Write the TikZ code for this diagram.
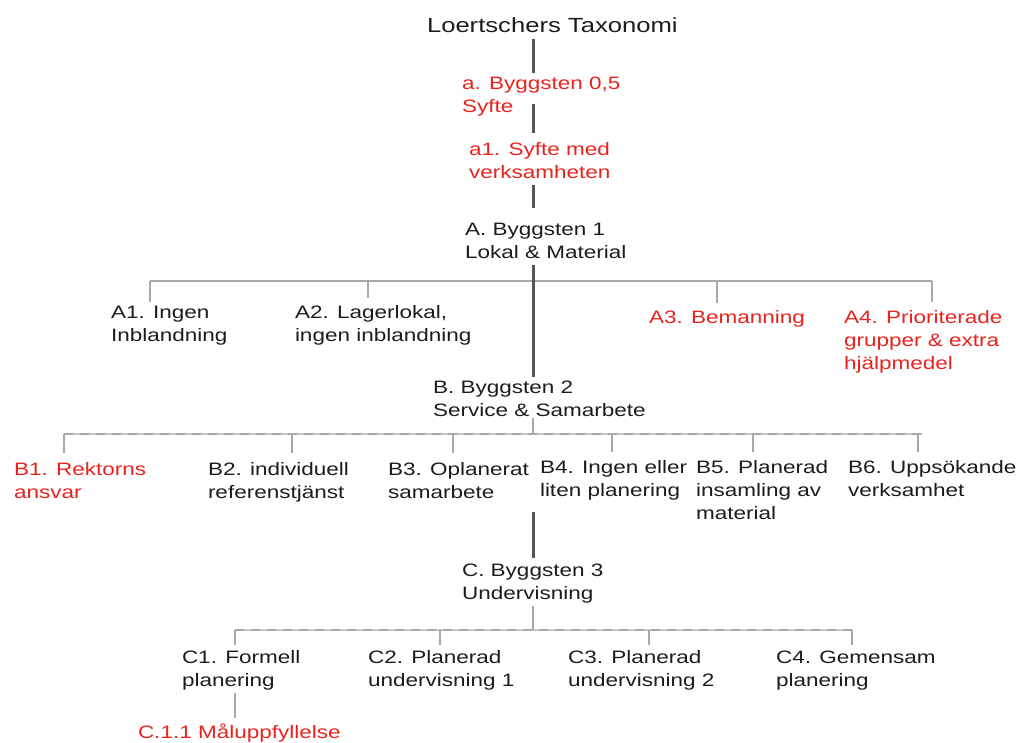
\documentclass[tikz,border=0pt]{standalone}
\usepackage{fontspec}
\setmainfont[FakeStretch=1.25]{Liberation Sans}
\definecolor{tred}{HTML}{E8231E}
\definecolor{ttext}{HTML}{1C1C1C}
\definecolor{trunkc}{HTML}{555555}
\definecolor{busc}{HTML}{A8A8A8}
\definecolor{busl}{HTML}{C6C6C6}
\newcommand\ml[1]{\begin{tabular}[t]{@{}l@{}}#1\end{tabular}}
\begin{document}
\begin{tikzpicture}[x=1pt,y=-1pt,
 lab/.style={anchor=base west, inner sep=0pt, outer sep=0pt, text=ttext, font=\fontsize{18}{23}\selectfont},
 redlab/.style={lab, text=tred},
 trunk/.style={draw=trunkc, line width=3pt},
 bus/.style={draw=busc, line width=2.8pt},
 lbus/.style={draw=busl, line width=2.8pt},
 dbus/.style={draw=busc, line width=2.8pt, dash pattern=on 9pt off 7pt},
 drop/.style={draw=busc, line width=2.6pt}]
\useasboundingbox (0,0) rectangle (1017,742);
% nodes
\node[lab, font=\fontsize{20.5}{23}\selectfont] (title) at (427,32) {\ml{Loertschers Taxonomi}};
\node[redlab] (a) at (462,89) {\ml{a. Byggsten 0,5\\Syfte}};
\node[redlab] (a1) at (469,155) {\ml{a1. Syfte med\\verksamheten}};
\node[lab] (A) at (465,235) {\ml{A. Byggsten 1\\Lokal \& Material}};
\node[lab] (A1) at (111,318) {\ml{A1. Ingen\\Inblandning}};
\node[lab] (A2) at (295,318) {\ml{A2. Lagerlokal,\\ingen inblandning}};
\node[redlab] (A3) at (649,323) {\ml{A3. Bemanning}};
\node[redlab] (A4) at (844,323) {\ml{A4. Prioriterade\\grupper \& extra\\hjälpmedel}};
\node[lab] (B) at (433,393) {\ml{B. Byggsten 2\\Service \& Samarbete}};
\node[redlab] (B1) at (14,475) {\ml{B1. Rektorns\\ansvar}};
\node[lab] (B2) at (208,475) {\ml{B2. individuell\\referenstjänst}};
\node[lab] (B3) at (388,475) {\ml{B3. Oplanerat\\samarbete}};
\node[lab] (B4) at (540,473) {\ml{B4. Ingen eller\\liten planering}};
\node[lab] (B5) at (696,473) {\ml{B5. Planerad\\insamling av\\material}};
\node[lab] (B6) at (848,473) {\ml{B6. Uppsökande\\verksamhet}};
\node[lab] (C) at (462,576) {\ml{C. Byggsten 3\\Undervisning}};
\node[lab] (C1) at (182,663) {\ml{C1. Formell\\planering}};
\node[lab] (C2) at (368,663) {\ml{C2. Planerad\\undervisning 1}};
\node[lab] (C3) at (568,663) {\ml{C3. Planerad\\undervisning 2}};
\node[lab] (C4) at (776,663) {\ml{C4. Gemensam\\planering}};
\node[redlab] (C11) at (138,738) {\ml{C.1.1 Måluppfyllelse}};
% coordinates
\coordinate (tx) at (533,0);
\coordinate (abL) at (150,281);
\coordinate (abA2) at (368,281);
\coordinate (abA3) at (717,281);
\coordinate (abR) at (932,281);
\coordinate (bbL) at (64,434);
\coordinate (bbB2) at (292,434);
\coordinate (bbB3) at (453,434);
\coordinate (bbM) at (533,434);
\coordinate (bbB4) at (612,434);
\coordinate (bbB5) at (753,434);
\coordinate (bbR) at (918,434);
\coordinate (bbE) at (922,434);
\coordinate (cbL) at (235,630);
\coordinate (cbC2) at (440,630);
\coordinate (cbM) at (533,630);
\coordinate (cbC3) at (649,630);
\coordinate (cbR) at (852,630);
% A level bus
\draw[bus] (abL) -- (abR);
\draw[drop] (abL) -- (A1.north -| abL);
\draw[drop] (abA2) -- ([yshift=4pt]A2.north -| abA2);
\draw[drop] (abA3) -- ([yshift=4pt]A3.north -| abA3);
\draw[drop] (abR) -- ([yshift=5pt]A4.north -| abR);
% trunk
\draw[trunk] (title.south -| tx) -- (a.north -| tx);
\draw[trunk] ([yshift=15pt]a.south -| tx) -- ([yshift=6pt]a1.north -| tx);
\draw[trunk] (a1.south -| tx) -- ([yshift=11pt]A.north -| tx);
\draw[trunk] (A.south -| tx) -- (B.north -| tx);
% B level bus
\draw[lbus] (bbL) -- (bbE);
\draw[dbus] (bbL) -- (bbE);
\draw[drop] ([yshift=5pt]B.south -| tx) -- (bbM);
\draw[drop] (bbL) -- ([yshift=6pt]B1.north -| bbL);
\draw[drop] (bbB2) -- ([yshift=6pt]B2.north -| bbB2);
\draw[drop] (bbB3) -- ([yshift=6pt]B3.north -| bbB3);
\draw[drop] (bbB4) -- ([yshift=5pt]B4.north -| bbB4);
\draw[drop] (bbB5) -- ([yshift=5pt]B5.north -| bbB5);
\draw[drop] (bbR) -- ([yshift=5pt]B6.north -| bbR);
% C level
\draw[trunk] ([yshift=-9pt]B4.south -| tx) -- ([yshift=2pt]C.north -| tx);
\draw[lbus] (cbL) -- (cbR);
\draw[dbus] (cbL) -- (cbR);
\draw[drop] (C.south -| tx) -- (cbM);
\draw[drop] (cbL) -- ([yshift=2pt]C1.north -| cbL);
\draw[drop] (cbC2) -- ([yshift=2pt]C2.north -| cbC2);
\draw[drop] (cbC3) -- ([yshift=2pt]C3.north -| cbC3);
\draw[drop] (cbR) -- ([yshift=2pt]C4.north -| cbR);
\draw[drop] (C1.south -| cbL) -- ([yshift=4pt]C11.north -| cbL);
\end{tikzpicture}
\end{document}
